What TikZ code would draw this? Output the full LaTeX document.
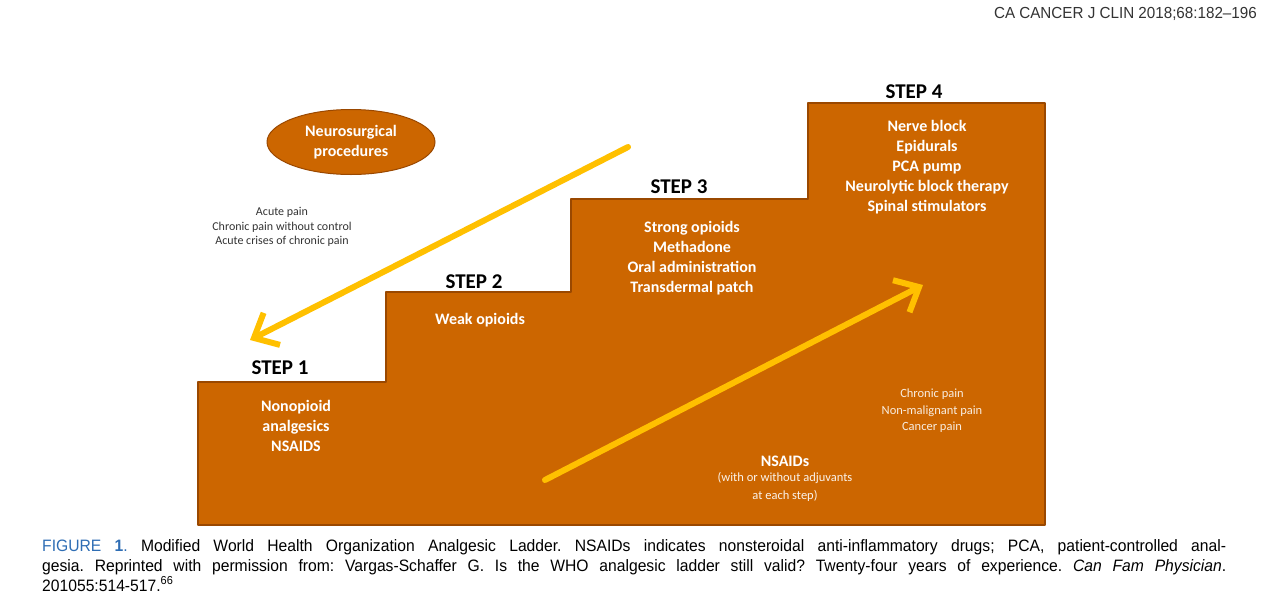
\documentclass[tikz,border=0pt]{standalone}
\usepackage{fontspec}
\setmainfont{Carlito}
\newfontfamily\capfont[FakeStretch=0.95]{Liberation Sans}
\usetikzlibrary{arrows.meta,shapes.geometric}
\definecolor{ladder}{HTML}{CC6600}
\definecolor{ladderedge}{HTML}{9A4800}
\definecolor{arrowyel}{HTML}{FFC000}
\definecolor{figblue}{HTML}{2E6DB4}
\frenchspacing
\begin{document}
\begin{tikzpicture}[x=1pt,y=-1pt,line cap=round,line join=round]
	\useasboundingbox (0,0) rectangle (1265,605);
	\tikzset{steplbl/.style={font=\fontsize{21}{24}\selectfont\bfseries,text=black},
		rung/.style={font=\fontsize{16}{20}\selectfont\bfseries,text=white,align=center},
		note/.style={font=\fontsize{12}{14.5}\selectfont,align=center,inner sep=0pt},
		bigarrow/.style={draw=arrowyel,line width=6pt,-{Straight Barb[length=20pt,width=36pt]}}}
	% the ladder
	\fill[ladder,draw=ladderedge,line width=1.5pt] (198,525) -- (198,382) -- (386,382) -- (386,292) -- (571,292) -- (571,199) -- (808,199) -- (808,103) -- (1045,103) -- (1045,525) -- cycle;
	\foreach \n/\x/\y in {1/280/368,2/474/282,3/679/187,4/914/92}{\node[steplbl] (step\n) at (\x,\y) {STEP \n};}
	\node[rung] (rung1) at (296,426) {Nonopioid\\analgesics\\NSAIDS};
	\node[rung] (rung2) at (480,320) {Weak opioids};
	\node[rung] (rung3) at (692,258) {Strong opioids\\Methadone\\Oral administration\\Transdermal patch};
	\node[rung] (rung4) at (927,167) {Nerve block\\Epidurals\\PCA pump\\Neurolytic block therapy\\Spinal stimulators};
	\node[rung,ellipse,fill=ladder,draw=ladderedge,line width=1pt,minimum width=168pt,minimum height=65pt,inner sep=0pt] (neuro) at (351,142) {Neurosurgical\\procedures};
	\node[note,text=black!80] (acute) at (282,227) {Acute pain\\Chronic pain without control\\Acute crises of chronic pain};
	\node[note,text=white!88!ladder,font=\fontsize{12.5}{16.5}\selectfont] (chronic) at (932,411) {Chronic pain\\Non-malignant pain\\Cancer pain};
	\node[rung,inner sep=0pt] (nsaid) at (785,461) {NSAIDs};
	\node[note,text=white!92!ladder,font=\fontsize{12.5}{18}\selectfont] (adjuv) at (785,487) {(with or without adjuvants\\at each step)};
	% the two arrows
	\coordinate (downstart) at (628,147);
	\coordinate (downend) at (250,340);
	\coordinate (upstart) at (545,480);
	\coordinate (upend) at (923,285);
	\draw[bigarrow] (downstart) -- (downend);
	\draw[bigarrow] (upstart) -- (upend);
	% header and caption
	\node[anchor=east,inner sep=0pt,text=black!80,font=\capfont\fontsize{16}{18}\selectfont] (journal) at (1257,14) {CA CANCER J CLIN 2018;68:182–196};
	\tikzset{capline/.style={anchor=base west,inner sep=0pt,font=\capfont\fontsize{16.5}{18}\selectfont}}
	\node[capline] (cap1) at (42,551) {\makebox[1184pt][s]{\textcolor{figblue}{FIGURE \textbf{1}.} Modified World Health Organization Analgesic Ladder. NSAIDs indicates nonsteroidal anti-inflammatory drugs; PCA, patient-controlled anal-}};
	\node[capline] (cap2) at (42,571) {\makebox[1184pt][s]{gesia. Reprinted with permission from: Vargas-Schaffer G. Is the WHO analgesic ladder still valid? Twenty-four years of experience. \textit{Can Fam Physician}.}};
	\node[capline] (cap3) at (42,591) {201055:514-517.\textsuperscript{66}};
\end{tikzpicture}
\end{document}
